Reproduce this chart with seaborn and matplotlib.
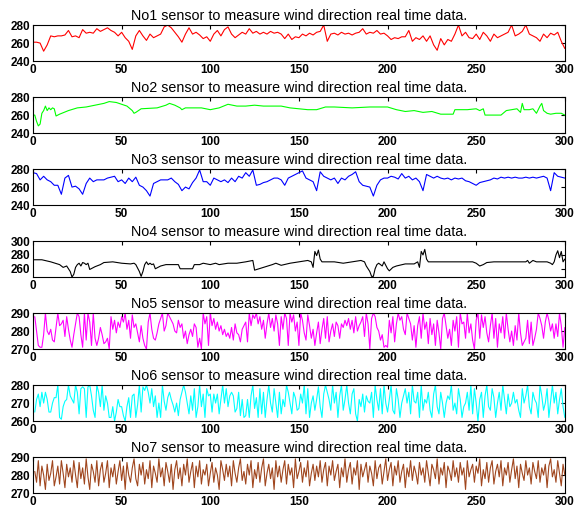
import numpy as np
import matplotlib
matplotlib.use('Agg')
import matplotlib.pyplot as plt
import seaborn as sns

# sensor 1 (red), sampled every 2 steps
s1_x = list(range(0, 301, 2))
s1_y = [261, 261, 260, 251, 258, 268, 267, 268, 268, 269,
        274, 267, 268, 266, 275, 271, 272, 271, 276, 273,
        275, 277, 274, 272, 268, 272, 266, 262, 253, 268,
        274, 268, 263, 270, 266, 268, 270, 278, 280, 277,
        272, 267, 261, 270, 277, 270, 272, 269, 265, 267,
        262, 270, 274, 268, 275, 278, 270, 266, 269, 272,
        270, 276, 271, 273, 270, 272, 270, 273, 271, 272,
        270, 265, 270, 264, 267, 266, 270, 268, 271, 269,
        272, 273, 280, 262, 270, 271, 269, 272, 270, 271,
        269, 271, 272, 276, 270, 272, 271, 274, 270, 271,
        268, 264, 266, 265, 267, 267, 274, 262, 266, 264,
        268, 262, 268, 258, 252, 265, 258, 264, 262, 270,
        280, 268, 272, 266, 265, 270, 264, 272, 268, 262,
        270, 266, 268, 270, 272, 280, 268, 270, 273, 280,
        270, 268, 266, 262, 270, 266, 271, 269, 272, 262,
        254]

# sensor 2 (green), smooth curve
s2_x = [0, 1, 2, 3, 4, 5, 6, 7, 8, 9, 10, 11, 12, 13, 15, 20, 25, 30, 35, 40,
        43, 47, 50, 53, 56, 57, 58, 61, 70, 75, 77, 80, 83, 84, 86, 95, 100,
        105, 110, 115, 120, 125, 130, 135, 140, 145, 150, 155, 160, 165, 170,
        180, 190, 200, 205, 210, 215, 220, 225, 230, 235, 237, 238, 245, 250,
        252, 254, 255, 260, 264, 267, 270, 273, 275, 276, 277, 278, 280, 282,
        284, 286, 287, 288, 290, 292, 295, 298, 300]
s2_y = [260, 260, 253, 248, 250, 262, 265, 270, 265, 268, 266, 268, 267, 259,
        261, 265, 268, 269, 271, 273, 275, 274, 272, 270, 265, 262, 263, 267,
        268, 271, 273, 271, 268, 266, 268, 268, 266, 268, 272, 270, 270, 271,
        270, 270, 270, 268, 267, 266, 266, 269, 269, 268, 269, 269, 266, 264,
        265, 263, 264, 261, 261, 261, 266, 266, 267, 265, 267, 260, 260, 260,
        265, 266, 267, 263, 273, 266, 266, 266, 267, 262, 270, 273, 265, 262,
        261, 262, 262, 260]

# sensor 3 (blue), sampled every 2 steps
s3_x = list(range(0, 301, 2))
s3_y = [276, 275, 268, 272, 268, 266, 262, 262, 252, 270,
        273, 260, 261, 258, 252, 264, 270, 266, 268, 268,
        268, 270, 271, 272, 266, 268, 264, 270, 266, 271,
        262, 260, 256, 250, 264, 266, 268, 268, 268, 270,
        266, 263, 256, 260, 258, 265, 270, 279, 266, 266,
        262, 270, 268, 266, 268, 265, 270, 266, 272, 270,
        276, 272, 279, 262, 263, 265, 266, 268, 270, 270,
        268, 262, 270, 272, 274, 276, 278, 270, 268, 266,
        256, 277, 272, 270, 268, 270, 264, 270, 268, 272,
        274, 277, 266, 262, 261, 260, 250, 262, 268, 270,
        270, 272, 271, 269, 275, 270, 272, 268, 270, 266,
        256, 274, 272, 270, 272, 270, 269, 270, 268, 270,
        269, 270, 267, 266, 264, 262, 265, 266, 267, 268,
        270, 269, 271, 270, 271, 270, 271, 270, 270, 271,
        270, 271, 270, 271, 272, 270, 256, 276, 272, 271,
        270]

# sensor 4 (black)
s4_x = [0, 5, 10, 15, 17, 19, 21, 22, 23, 24, 25, 26, 27, 28, 29, 30, 31, 32,
        35, 38, 40, 45, 50, 55, 57, 58, 60, 61, 62, 63, 64, 65, 66, 67, 68, 69,
        72, 75, 80, 82, 83, 88, 90, 91, 94, 96, 100, 103, 105, 110, 115, 120,
        124, 125, 130, 135, 137, 140, 145, 150, 155, 157, 158, 159, 160, 161,
        162, 163, 165, 170, 175, 180, 185, 187, 188, 190, 191, 192, 193, 194,
        195, 197, 198, 199, 200, 201, 203, 205, 210, 215, 217, 218, 219, 220,
        221, 222, 223, 230, 240, 248, 250, 252, 254, 256, 260, 270, 278, 279,
        280, 282, 284, 290, 292, 293, 294, 295, 296, 297, 298, 299, 300]
s4_y = [273, 273, 270, 266, 262, 264, 256, 248, 252, 262, 266, 268, 264, 269,
        268, 266, 268, 259, 263, 266, 269, 270, 268, 267, 268, 266, 256, 249,
        256, 266, 270, 266, 268, 266, 267, 260, 264, 266, 266, 266, 260, 260,
        260, 266, 266, 268, 266, 268, 266, 268, 268, 270, 272, 258, 262, 266,
        268, 265, 268, 270, 272, 270, 262, 285, 279, 287, 274, 270, 270, 270,
        268, 270, 272, 270, 264, 256, 249, 249, 260, 266, 268, 264, 270, 265,
        260, 257, 262, 264, 267, 267, 270, 262, 285, 280, 288, 274, 270, 270,
        270, 270, 268, 264, 266, 269, 270, 270, 270, 272, 268, 272, 270, 270,
        268, 266, 270, 280, 286, 276, 285, 270, 274]

# sensors 5-7, one value per step (1..300)
s5_y = [288, 280, 272, 271, 271, 278, 290, 280, 278, 281, 275, 274, 282, 290, 283, 284, 286, 277, 288, 281,
        275, 271, 278, 284, 290, 288, 278, 271, 290, 275, 290, 285, 272, 290, 276, 272, 276, 282, 278, 273,
        274, 276, 270, 288, 281, 286, 279, 285, 282, 288, 285, 290, 281, 286, 276, 289, 282, 284, 279, 274,
        283, 276, 272, 270, 285, 290, 281, 276, 275, 279, 284, 287, 290, 280, 283, 290, 288, 286, 284, 280,
        279, 286, 282, 284, 276, 280, 273, 278, 281, 277, 284, 282, 271, 276, 270, 290, 284, 288, 272, 290,
        283, 287, 281, 285, 280, 283, 278, 281, 277, 279, 276, 282, 275, 284, 279, 278, 274, 281, 283, 285,
        274, 290, 283, 289, 287, 290, 284, 288, 281, 286, 276, 284, 290, 282, 287, 280, 289, 284, 272, 288,
        281, 290, 287, 272, 290, 285, 289, 280, 285, 272, 290, 286, 279, 275, 289, 283, 276, 281, 272, 279,
        285, 273, 281, 287, 276, 288, 274, 280, 284, 277, 285, 283, 276, 284, 282, 286, 283, 287, 281, 286,
        279, 288, 280, 283, 285, 288, 277, 290, 284, 270, 287, 290, 288, 282, 280, 275, 278, 271, 272, 271,
        286, 279, 288, 274, 284, 290, 286, 288, 281, 278, 290, 287, 284, 275, 283, 271, 283, 288, 276, 290,
        281, 285, 273, 287, 278, 284, 272, 286, 279, 270, 287, 290, 283, 276, 281, 272, 286, 280, 288, 271,
        290, 284, 285, 276, 290, 279, 284, 275, 270, 286, 290, 276, 289, 282, 288, 279, 274, 283, 290, 276,
        287, 271, 284, 279, 288, 276, 290, 281, 274, 280, 272, 283, 275, 290, 279, 272, 274, 276, 286, 273,
        285, 272, 276, 281, 290, 287, 283, 276, 285, 290, 286, 280, 284, 276, 284, 277, 290, 283, 271, 282]

s6_y = [265, 272, 275, 268, 276, 270, 276, 272, 265, 265, 270, 273, 273, 280, 262, 261, 268, 271, 272, 280,
        274, 272, 270, 280, 276, 264, 278, 279, 278, 262, 279, 280, 274, 266, 262, 280, 276, 268, 280, 266,
        274, 270, 262, 262, 268, 260, 265, 272, 268, 268, 263, 260, 268, 273, 262, 274, 275, 262, 269, 280,
        265, 279, 277, 280, 276, 270, 278, 268, 274, 262, 270, 262, 280, 271, 266, 273, 276, 272, 269, 265,
        270, 263, 272, 276, 280, 276, 270, 264, 274, 266, 278, 262, 268, 280, 268, 275, 262, 278, 274, 275,
        265, 275, 270, 275, 264, 272, 280, 270, 278, 268, 274, 276, 274, 265, 267, 276, 263, 272, 262, 263,
        272, 262, 274, 280, 267, 273, 262, 278, 264, 276, 262, 272, 280, 270, 265, 278, 270, 262, 276, 264,
        272, 268, 280, 276, 270, 264, 276, 273, 266, 267, 275, 270, 280, 264, 278, 262, 270, 274, 266, 272,
        279, 268, 262, 275, 280, 276, 272, 266, 280, 270, 276, 262, 274, 280, 266, 272, 280, 270, 264, 275,
        278, 264, 260, 272, 268, 275, 265, 274, 271, 270, 276, 262, 280, 272, 266, 278, 264, 280, 270, 265,
        272, 280, 266, 264, 278, 272, 262, 270, 274, 278, 270, 276, 264, 280, 271, 270, 276, 262, 280, 266,
        272, 270, 276, 266, 262, 275, 280, 268, 264, 276, 270, 262, 270, 274, 272, 280, 266, 270, 264, 278,
        272, 262, 268, 270, 276, 266, 280, 264, 278, 270, 260, 272, 276, 262, 274, 280, 268, 266, 278, 273,
        262, 270, 276, 266, 280, 272, 264, 275, 268, 270, 276, 270, 272, 266, 262, 278, 270, 274, 280, 268,
        264, 276, 272, 270, 262, 280, 274, 266, 270, 278, 262, 271, 280, 270, 276, 264, 272, 278, 268, 262]

s7_y = [282, 276, 288, 274, 285, 280, 272, 286, 277, 281, 288, 274, 279, 285, 275, 288, 281, 273, 286, 279,
        284, 276, 288, 280, 273, 287, 278, 284, 275, 289, 279, 272, 286, 282, 276, 288, 274, 283, 287, 276,
        281, 288, 273, 284, 279, 286, 275, 282, 288, 277, 285, 272, 287, 280, 276, 284, 289, 278, 274, 286,
        280, 287, 275, 283, 278, 288, 273, 285, 281, 276, 289, 279, 284, 274, 287, 282, 276, 286, 272, 283,
        288, 278, 284, 274, 286, 280, 289, 276, 282, 287, 273, 285, 279, 288, 275, 283, 280, 286, 274, 281,
        287, 276, 284, 280, 272, 288, 283, 277, 286, 279, 285, 274, 288, 281, 276, 284, 289, 277, 282, 275,
        286, 280, 288, 273, 283, 278, 287, 276, 284, 289, 274, 281, 286, 278, 284, 272, 288, 279, 285, 276,
        283, 288, 275, 286, 280, 284, 273, 289, 278, 282, 287, 276, 284, 279, 288, 274, 281, 286, 277, 285,
        279, 288, 276, 283, 287, 274, 285, 280, 288, 277, 282, 286, 273, 284, 279, 289, 276, 283, 287, 275,
        284, 280, 288, 272, 286, 279, 283, 287, 276, 285, 281, 274, 288, 278, 284, 286, 275, 282, 289, 277,
        283, 287, 274, 285, 280, 288, 276, 282, 286, 273, 284, 279, 288, 277, 285, 281, 275, 287, 280, 284,
        276, 288, 281, 274, 286, 283, 278, 289, 275, 284, 280, 287, 273, 285, 282, 277, 288, 279, 284, 276,
        287, 280, 284, 272, 288, 279, 283, 286, 276, 285, 281, 289, 274, 283, 278, 287, 276, 284, 288, 275,
        282, 286, 279, 288, 274, 284, 280, 287, 276, 283, 289, 278, 285, 273, 286, 281, 277, 288, 280, 284,
        275, 287, 282, 278, 288, 276, 284, 280, 286, 273, 285, 289, 279, 283, 276, 288, 281, 274, 286, 280]
step_x = list(range(1, 301))

series = [
    (s1_x, s1_y, '#ff0000', (240, 280), [240, 260, 280]),
    (s2_x, s2_y, '#00ff00', (240, 280), [240, 260, 280]),
    (s3_x, s3_y, '#0000ff', (240, 280), [240, 260, 280]),
    (s4_x, s4_y, '#000000', (248, 300), [260, 280, 300]),
    (step_x, s5_y, '#ff00ff', (270, 290), [270, 280, 290]),
    (step_x, s6_y, '#00ffff', (260, 280), [260, 270, 280]),
    (step_x, s7_y, '#a0461e', (270, 290), [270, 280, 290]),
]

sns.set_style('white')
plt.rcParams['font.family'] = ['Liberation Sans', 'DejaVu Sans']

fig, axes = plt.subplots(7, 1, figsize=(5.74, 5.12), dpi=100)
fig.subplots_adjust(left=0.0575, right=0.984, top=0.951, bottom=0.037, hspace=1.0)

for i, (ax, (xs, ys, col, ylim, yt)) in enumerate(zip(axes, series)):
    sns.lineplot(x=xs, y=ys, ax=ax, color=col, linewidth=0.8)
    ax.set_xlim(0, 300)
    ax.set_ylim(*ylim)
    ax.set_xticks([0, 50, 100, 150, 200, 250, 300])
    ax.set_yticks(yt)
    ax.tick_params(direction='in', length=3, width=0.8, top=True, right=True,
                   labelsize=8.5, pad=2, colors='black')
    for lab in ax.get_xticklabels() + ax.get_yticklabels():
        lab.set_fontweight('bold')
    for sp in ax.spines.values():
        sp.set_color('black')
        sp.set_linewidth(0.8)
    ax.set_title(f'No{i + 1} sensor to measure wind direction real time data.',
                 fontsize=10.3, pad=4, color='black')

fig.savefig('out.png', dpi=100)
